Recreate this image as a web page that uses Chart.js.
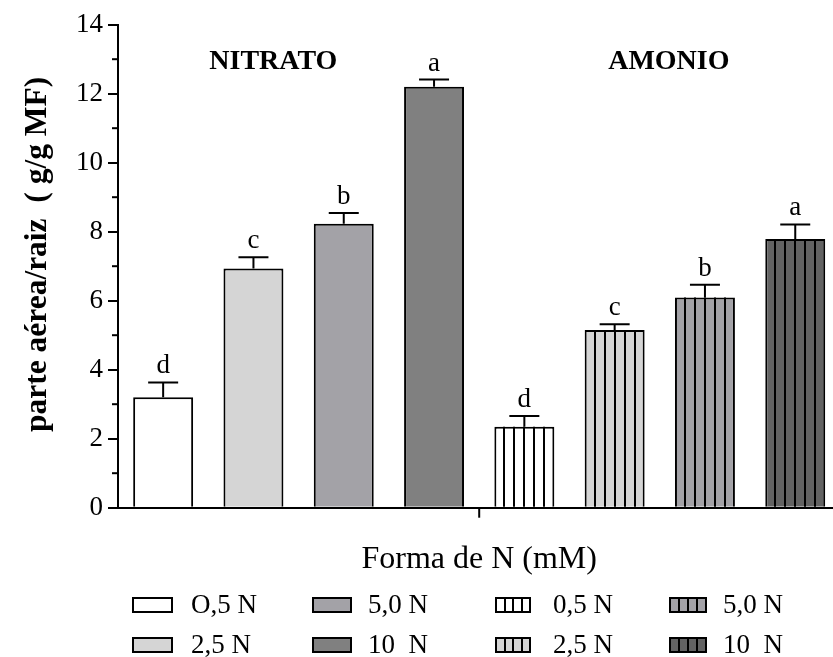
<!DOCTYPE html>
<html>
<head>
<meta charset="utf-8">
<script src="https://cdn.jsdelivr.net/npm/chart.js@4.4.1/dist/chart.umd.min.js"></script>
<style>
  html, body { margin: 0; padding: 0; background: #fff; overflow: hidden; }
  canvas { display: block; }
</style>
</head>
<body>
<canvas id="chartBar" width="850" height="657"></canvas>
<script>
// data
const categories = ['N 0,5', 'N 2,5', 'N 5,0', 'N 10', 'A 0,5', 'A 2,5', 'A 5,0', 'A 10'];
const ratioValues = [3.2, 6.93, 8.23, 12.2, 2.35, 5.15, 6.09, 7.79];
const ratioErrors = [0.43, 0.33, 0.31, 0.21, 0.31, 0.17, 0.37, 0.42];
const letters = ['d', 'c', 'b', 'a', 'd', 'c', 'b', 'a'];
const striped = [false, false, false, false, true, true, true, true];
const barColors = ['#ffffff', '#d5d5d5', '#a3a2a7', '#808080', '#ffffff', '#d5d5d5', '#a3a2a7', '#636363'];
const groupLabels = ['NITRATO', 'AMONIO'];
const groupLabelAt = [1.22, 5.6];
const legendLabels = ['O,5 N', '2,5 N', '5,0 N', '10  N', '0,5 N', '2,5 N', '5,0 N', '10  N'];

const serif = '"Liberation Serif", "Times New Roman", serif';

const extras = {
  id: 'extras',
  afterDatasetsDraw: function(chart) {
    let ctx = chart.ctx;
    let yScale = chart.scales.y;
    let xScale = chart.scales.x;
    let meta = chart.getDatasetMeta(0);
    ctx.save();
    ctx.strokeStyle = '#000';
    ctx.fillStyle = '#000';
    ctx.lineWidth = 2;

    meta.data.forEach(function(el, i) {
      let bar = el.getProps(['x', 'y', 'base', 'width'], true);
      let left = bar.x - bar.width / 2;
      if (striped[i]) {
        for (let k = 1; k < 6; k++) {
          let sx = Math.round(left + bar.width * k / 6);
          ctx.beginPath();
          ctx.moveTo(sx, bar.y);
          ctx.lineTo(sx, bar.base);
          ctx.stroke();
        }
      }
      let top = yScale.getPixelForValue(ratioValues[i] + ratioErrors[i]);
      ctx.beginPath();
      ctx.moveTo(bar.x, bar.y);
      ctx.lineTo(bar.x, top);
      ctx.moveTo(bar.x - 15, top);
      ctx.lineTo(bar.x + 15, top);
      ctx.stroke();

      ctx.font = '27px ' + serif;
      ctx.textAlign = 'center';
      ctx.textBaseline = 'alphabetic';
      ctx.fillText(letters[i], bar.x, top - 9);
    });

    // minor ticks on y axis
    for (let v = 1; v < 14; v += 2) {
      let py = yScale.getPixelForValue(v);
      ctx.beginPath();
      ctx.moveTo(yScale.right - 6, py);
      ctx.lineTo(yScale.right, py);
      ctx.stroke();
    }

    // single tick between the two groups
    let mid = (xScale.getPixelForValue(3) + xScale.getPixelForValue(4)) / 2;
    ctx.beginPath();
    ctx.moveTo(mid, xScale.top);
    ctx.lineTo(mid, xScale.top + 10);
    ctx.stroke();

    // group names
    ctx.font = 'bold 28px ' + serif;
    ctx.textAlign = 'center';
    ctx.textBaseline = 'middle';
    groupLabels.forEach(function(txt, g) {
      ctx.fillText(txt, xScale.getPixelForValue(groupLabelAt[g]), yScale.getPixelForValue(12.92));
    });
    ctx.restore();
  },
  afterDraw: function(chart) {
    let ctx = chart.ctx;
    let boxX = [133, 313, 496, 670];
    let boxW = [39, 38, 34, 36];
    let textX = [191, 368, 553, 723];
    let rowY = [605, 645];
    ctx.save();
    ctx.strokeStyle = '#000';
    ctx.lineWidth = 2;
    ctx.fillStyle = '#000';
    ctx.font = '27px ' + serif;
    ctx.textAlign = 'left';
    ctx.textBaseline = 'middle';
    legendLabels.forEach(function(txt, i) {
      let col = Math.floor(i / 2);
      let row = i % 2;
      let x = boxX[col], w = boxW[col], y = rowY[row] - 7;
      ctx.fillStyle = barColors[i];
      ctx.fillRect(x, y, w, 14);
      ctx.strokeRect(x, y, w, 14);
      if (striped[i]) {
        for (let k = 1; k < 4; k++) {
          let sx = Math.round(x + w * k / 4);
          ctx.beginPath();
          ctx.moveTo(sx, y);
          ctx.lineTo(sx, y + 14);
          ctx.stroke();
        }
      }
      ctx.fillStyle = '#000';
      ctx.fillText(txt, textX[col], rowY[row] + 1);
    });
    ctx.restore();
  }
};

new Chart(document.getElementById('chartBar'), {
  type: 'bar',
  data: {
    labels: categories,
    datasets: [{
      data: ratioValues,
      backgroundColor: barColors,
      borderColor: '#000',
      borderWidth: 2,
      categoryPercentage: 1,
      barPercentage: 0.664
    }]
  },
  options: {
    responsive: false,
    animation: false,
    devicePixelRatio: 1,
    layout: { padding: { left: 0, top: 24.7, right: 9.6, bottom: 69.3 } },
    plugins: { legend: { display: false }, tooltip: { enabled: false } },
    scales: {
      x: {
        grid: { display: false },
        border: { color: '#000', width: 2 },
        ticks: { display: false },
        title: {
          display: true,
          text: 'Forma de N (mM)',
          color: '#000',
          font: { family: serif, size: 32 },
          padding: { top: 0, bottom: 8.5 }
        },
        afterFit: function(scale) { scale.width = scale.width; scale.height = 80; }
      },
      y: {
        min: 0,
        max: 14,
        grid: { drawOnChartArea: false, color: '#000', lineWidth: 2, tickLength: 10 },
        border: { color: '#000', width: 2 },
        ticks: { stepSize: 2, color: '#000', padding: 5, font: { family: serif, size: 27 } },
        title: {
          display: true,
          // leading spaces nudge the centred title up a little, as in the original
          text: '   parte aérea/raiz  ( g/g MF)',
          color: '#000',
          font: { family: serif, size: 31.5, weight: 'bold' },
          padding: { top: 19, bottom: 0 }
        },
        afterFit: function(scale) { scale.width = 118; }
      }
    }
  },
  plugins: [extras]
});
</script>
</body>
</html>
